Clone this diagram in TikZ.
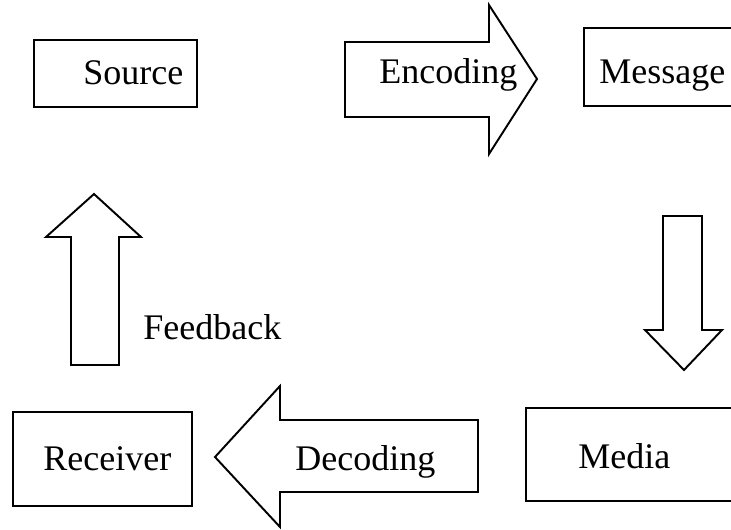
\documentclass[tikz,border=0pt]{standalone}
\usepackage{fontspec}
\setmainfont{Liberation Serif}
\tikzset{
  stage/.style = {draw, line width=1.1pt},
  flow/.style  = {draw, line width=1.1pt, line join=miter},
  word/.style  = {anchor=base west, inner sep=0pt, font=\fontsize{20.5}{24}\selectfont},
}
\begin{document}
\begin{tikzpicture}[x=0.02cm, y=-0.02cm]
            \clip (0,0) rectangle (731,529);
            % Kaesten
            \draw [stage] ( 34, 40) rectangle (197,107);
            \draw [stage] (584, 28) rectangle (745,106);
            \draw [stage] (526,408) rectangle (745,501);
            \draw [stage] ( 13,412) rectangle (192,506);
            % Blockpfeile
            \draw [flow] (345,42) -- (489,42) -- (489,5) -- (537,79) -- (489,154) -- (489,117) -- (345,117) -- cycle;
            \draw [flow] (663,216) -- (702,216) -- (702,330) -- (722,330) -- (684,370) -- (645,330) -- (663,330) -- cycle;
            \draw [flow] (478,420) -- (280,420) -- (280,386) -- (215,457) -- (280,527) -- (280,492) -- (478,492) -- cycle;
            \draw [flow] (71,365) -- (71,237) -- (46,237) -- (94,194) -- (141,237) -- (119,237) -- (119,365) -- cycle;
            % Beschriftung
            \node [word] (source)   at ( 83, 84) {Source};
            \node [word] (encoding) at (379, 83) {Encoding};
            \node [word] (message)  at (599, 83) {Message};
            \node [word] (feedback) at (143,339) {Feedback};
            \node [word] (media)    at (578,468) {Media};
            \node [word] (decoding) at (295,470) {Decoding};
            \node [word] (receiver) at ( 43,470) {Receiver};
\end{tikzpicture}
\end{document}
